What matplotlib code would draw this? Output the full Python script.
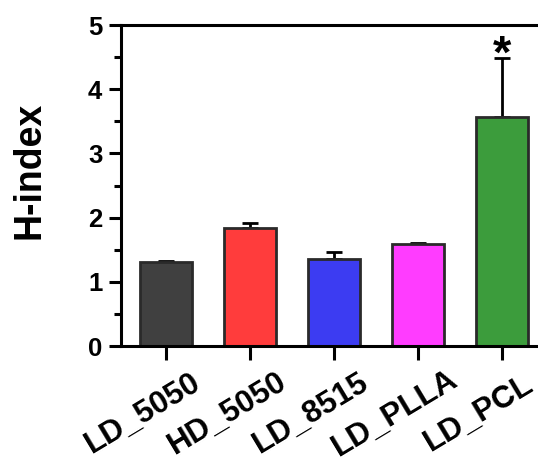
import matplotlib
matplotlib.use("Agg")
import matplotlib.pyplot as plt
import matplotlib.transforms as mtransforms
from matplotlib.ticker import MultipleLocator

plt.rcParams['font.family'] = ['Liberation Sans', 'DejaVu Sans']

categories = ["LD_5050", "HD_5050", "LD_8515", "LD_PLLA", "LD_PCL"]
values = [1.31, 1.84, 1.36, 1.59, 3.57]
errors = [0.015, 0.08, 0.10, 0.02, 0.91]
colors = ["#404040", "#ff3c3c", "#3c3cf2", "#ff3cff", "#3c9c3c"]
significance = ["", "", "", "", "*"]

W, H = 538, 459
fig = plt.figure(figsize=(W / 100, H / 100), dpi=100)
left_px, top_px, bottom_px = 121, 25, 346
unit_px = 84
xmin, xmax = -0.536, 4.6
ax = fig.add_axes([left_px / W, (H - bottom_px) / H,
                   (xmax - xmin) * unit_px / W, (bottom_px - top_px) / H])

x = list(range(len(categories)))
ax.bar(x, values, width=0.62, color=colors, edgecolor="#2a2a2a", linewidth=2, zorder=2)
ax.errorbar(x, values, yerr=[[0] * len(errors), errors], fmt="none",
            ecolor="black", elinewidth=2, capsize=5.5, capthick=2, zorder=1)

for xi, v, e, s in zip(x, values, errors, significance):
    if s:
        ax.text(xi, v + e + 0.38, s, ha="center", va="top",
                fontsize=34, fontweight="bold", color="black")

ax.set_xlim(xmin, xmax)
ax.set_ylim(0, 5)
ax.yaxis.set_major_locator(MultipleLocator(1))
ax.yaxis.set_minor_locator(MultipleLocator(0.5))
ax.set_xticks(x)
ax.set_xticklabels([])

for sp in ax.spines.values():
    sp.set_linewidth(2.2)

ax.tick_params(axis="y", which="major", direction="out", length=8.5, width=2.2,
               labelsize=18.5, pad=5)
ax.tick_params(axis="y", which="minor", direction="out", length=5, width=2.2)
ax.tick_params(axis="x", which="major", direction="out", length=10, width=2.2)
for lab in ax.get_yticklabels():
    lab.set_fontweight("bold")

# rotated category labels
base = ax.get_xaxis_transform()
for xi, c in zip(x, categories):
    tr = mtransforms.offset_copy(base, fig=fig, x=-23, y=-67, units="dots")
    ax.text(xi, 0, c, transform=tr, rotation=31, rotation_mode="anchor",
            ha="center", va="center", fontsize=22.5, fontweight="bold")

fig.text(29 / W, 1 - 170 / H, "H-index", rotation=90, ha="center", va="center",
         fontsize=27, fontweight="bold")

fig.savefig("out.png", dpi=100)
